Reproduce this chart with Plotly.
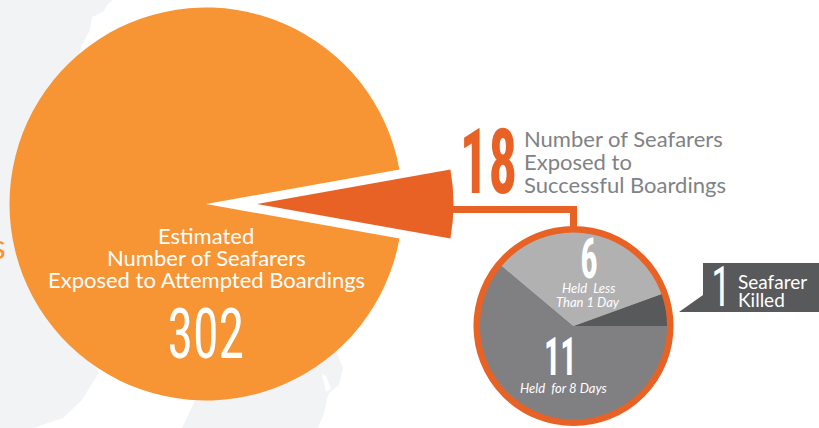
import plotly.graph_objects as go

W, H = 819, 428

# Data
big_labels = ["Successful boardings", "Attempted boardings"]
big_values = [18, 302]
small_labels = ["Held Less Than 1 Day", "Seafarer Killed", "Held for 8 Days"]
small_values = [6, 1, 11]

ORANGE = "#f79433"
RED = "#e86226"
GREY_TXT = "#808285"
LIGHT = "#b1b1b2"
DARK = "#58595b"
MID = "#808082"
LAND = "#f2f3f5"
CLEAR = "rgba(0,0,0,0)"
FONT = "Lato"
NUM = "Roboto Condensed"


def dom(cx, cy, r):
    return dict(x=[(cx - r) / W, (cx + r) / W], y=[1 - (cy + r) / H, 1 - (cy - r) / H])


def pie(labels, values, colors, domain, rotation):
    return go.Pie(
        labels=labels, values=values, sort=False, direction="clockwise",
        rotation=rotation, domain=domain, textinfo="none", hoverinfo="label+value",
        marker=dict(colors=colors, line=dict(width=0)), showlegend=False,
    )


big_rot = 90 - 18 / 320 * 360 / 2
fig = go.Figure()
fig.add_trace(pie(big_labels, big_values, [CLEAR, ORANGE], dom(206, 204, 196.5), big_rot))
fig.add_trace(pie(big_labels, big_values, [RED, CLEAR], dom(257, 204, 196.5), big_rot))
fig.add_trace(pie(small_labels, small_values, [LIGHT, DARK, MID], dom(573.5, 326, 96), -50))

land = [
    "M0,0 L113,0 L108,4 L103,12 L92,17 L90,30 L82,45 L60,120 L60,300 L99,373 L88,390 L82,400 L63,418 L33,428 L0,428 Z",
    "M182,428 L193,405 L200,390 L320,340 L337,353 L343,368 L339,385 L330,392 L327,398 L325,410 L318,428 Z",
]
shapes = [dict(type="path", path=p, fillcolor=LAND, line=dict(width=0), layer="below") for p in land]
shapes += [
    dict(type="path", path="M322,374 L326,376 L331,389 L326,392 Z", fillcolor="#ffffff", line=dict(width=0), layer="below"),
    dict(type="path", path="M452,209.5 L573.5,209.5 L573.5,232", line=dict(color=RED, width=7), fillcolor=CLEAR, layer="below"),
    dict(type="circle", x0=473.5 + 3.2, x1=673.5 - 3.2, y0=226 + 3.2, y1=426 - 3.2, line=dict(color=RED, width=6.5), layer="above"),
    dict(type="path", path="M703,263 L819,263 L819,312 L679,312 L703,295 Z", fillcolor=DARK, line=dict(width=0), layer="below"),
]


def txt(x, y, s, size, color, anchor="center", family=FONT, italic=False, weight=None):
    f = dict(family=family, size=size, color=color)
    if weight:
        f["weight"] = weight
    return dict(x=x, y=y, text=f"<i>{s}</i>" if italic else s, showarrow=False, xanchor=anchor, yanchor="middle",
                font=f, xref="x", yref="y", align=anchor if anchor != "center" else "center")


W_ = "#ffffff"
anns = [
    txt(206, 235, "Estimated", 22, W_),
    txt(206, 257, "Number of Seafarers", 22, W_),
    txt(206, 279, "Exposed to Attempted Boardings", 22, W_),
    txt(205.5, 334, "302", 70, W_, family=NUM),
    txt(8, 245, "s", 34, ORANGE, anchor="right"),
    txt(488, 162, "18", 90, RED, family=NUM, weight=700),
    txt(522, 138, "Number of Seafarers", 22, GREY_TXT, anchor="left"),
    txt(522, 161, "Exposed to", 22, GREY_TXT, anchor="left"),
    txt(522, 184, "Successful Boardings", 22, GREY_TXT, anchor="left"),
    txt(588.5, 258.5, "6", 55, W_, family=NUM, weight=700),
    txt(588, 288, "Held  Less", 13, W_, italic=True),
    txt(588, 302, "Than 1 Day", 13, W_, italic=True),
    txt(560, 356, "11", 54, W_, family=NUM, weight=700),
    txt(563, 388, "Held  for 8 Days", 13, W_, italic=True),
    txt(720.5, 287, "1", 56, W_, family=NUM),
    txt(736, 281, "Seafarer", 19, W_, anchor="left"),
    txt(736, 299, "Killed", 19, W_, anchor="left"),
]

fig.update_layout(
    width=W, height=H, margin=dict(l=0, r=0, t=0, b=0), autosize=False,
    paper_bgcolor="#ffffff", plot_bgcolor=CLEAR, shapes=shapes, annotations=anns,
    xaxis=dict(range=[0, W], visible=False, fixedrange=True),
    yaxis=dict(range=[H, 0], visible=False, fixedrange=True),
)
fig.add_trace(go.Scatter(x=[0], y=[0], mode="markers", marker=dict(opacity=0), showlegend=False, hoverinfo="skip"))

squeeze = """
document.body.style.margin='0';document.body.style.overflow='hidden';
var k={'302':0.74,'18':0.63,'6':0.63,'11':0.6,'1':0.7};
document.querySelectorAll('.annotation-text').forEach(function(t){
  var s=t.textContent.trim();
  if(k[s]){var b=t.getBBox(),c=b.x+b.width/2;
    t.setAttribute('transform','translate('+c+',0) scale('+k[s]+',1) translate('+(-c)+',0)');}
});
"""
fig.write_html("out.html", config=dict(displayModeBar=False), post_script=squeeze)
